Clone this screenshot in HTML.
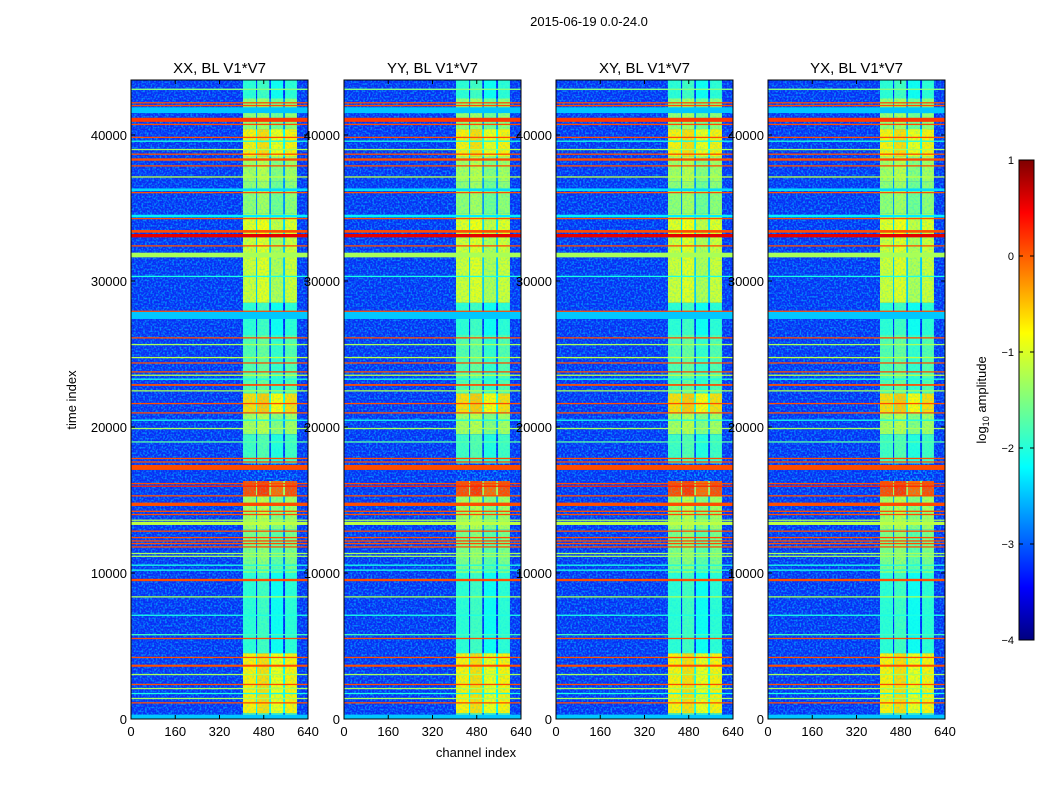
<!DOCTYPE html>
<html><head><meta charset="utf-8"><style>
body{margin:0;background:#fff;width:1050px;height:800px;overflow:hidden;font-family:"Liberation Sans",sans-serif}
</style></head><body>
<svg id="fig" width="1050" height="800" xmlns="http://www.w3.org/2000/svg" font-family="Liberation Sans, sans-serif">
<defs>
<filter id="noise" x="0" y="0" width="100%" height="100%">
<feTurbulence type="fractalNoise" baseFrequency="0.55" numOctaves="1" seed="3" result="t"/>
<feColorMatrix in="t" type="matrix" values="0 0 0 0 0  0 0 0 0 0.75  0 0 0 0 1  0 0 0 3.2 -1.35"/>
</filter>
<linearGradient id="jetg" x1="0" y1="1" x2="0" y2="0">
<stop offset="0" stop-color="#00007f"/><stop offset="0.11" stop-color="#0000ff"/><stop offset="0.36" stop-color="#00ffff"/><stop offset="0.5" stop-color="#7fff7f"/><stop offset="0.64" stop-color="#ffff00"/><stop offset="0.89" stop-color="#ff0000"/><stop offset="1" stop-color="#7f0000"/>
</linearGradient>
</defs>
<text x="589" y="26" font-size="13" text-anchor="middle">2015-06-19 0.0-24.0</text>
<text x="476" y="757" font-size="13" text-anchor="middle">channel index</text>
<text transform="translate(76,400) rotate(-90)" font-size="13" text-anchor="middle">time index</text>
<g id="panels"></g>
<g>
<rect x="1019" y="160" width="15" height="480" fill="url(#jetg)" stroke="#000" stroke-width="1"/>
<g id="cbticks"></g>
<text transform="translate(986,400) rotate(-90)" font-size="13" text-anchor="middle">log<tspan font-size="9" dy="3">10</tspan><tspan dy="-3"> amplitude</tspan></text>
</g>
</svg>
<script>
const titles=["XX, BL V1*V7","YY, BL V1*V7","XY, BL V1*V7","YX, BL V1*V7"];
const xTicks=[0,160,320,480,640];
const yTicks=[0,10000,20000,30000,40000];
const cbTicks=[1,0,-1,-2,-3,-4];
// horizontal RFI lines: [time start, time end, log10 amplitude]
const rfiLines=[[43080,43180,-1.5],[42170,42250,0],[42000,42060,0],[41500,41900,-2.4],[40900,41180,0.1],[40700,40770,0],[39800,39880,0],[39560,39620,-2],[38990,39050,-1.3],[38670,38730,0],[38240,38400,0],[37870,37930,0],[37110,37170,-1.2],[36160,36340,-2.3],[36040,36100,0],[34360,34540,-2.2],[34260,34320,0],[33310,33490,0],[32990,33220,0.5],[32390,32450,0],[31620,31940,-1.3],[30320,30360,-2],[27930,27970,0],[27400,27880,-2.4],[26090,26150,0],[25630,25690,-1.3],[24740,24800,-1.2],[24370,24430,0],[23760,23820,0],[23530,23590,-1.2],[23260,23320,-2],[22820,22940,0],[22460,22520,-1.3],[21590,21650,0],[20950,21010,0],[20450,20510,-2],[19880,19940,-1.3],[18960,19020,-1.7],[17830,17890,0],[17590,17650,0],[17060,17400,0],[16110,16170,0],[15930,15990,0.2],[15270,15330,0],[14590,14820,0],[14230,14270,0],[13990,14050,0],[13600,13660,-1.3],[13290,13510,-1.2],[12850,12910,0],[12410,12470,0],[12180,12240,0],[12000,12060,0],[11770,11830,0],[11320,11380,-1.3],[11130,11190,-1.3],[10520,10580,-2],[10180,10240,-2],[9440,9600,0],[8350,8410,-1.3],[7090,7150,-2],[5780,5820,-1.8],[5500,5560,0],[4200,4260,0],[3580,3720,0],[3030,3090,-1.3],[2350,2410,0],[2070,2130,-1.3],[1730,1790,-2],[1390,1450,-1.3],[1090,1150,0],[0,300,-2.4]];
// RFI band segments: [time start, time end, log10 amplitude]
const bandSegs=[[42500,43800,-1.9],[40400,42500,-1.4],[38500,40400,-0.8],[36800,38500,-1.3],[34600,36800,-1.4],[33000,34600,-1.0],[28500,33000,-1.1],[26300,28500,-1.9],[22300,26300,-1.7],[21000,22300,-0.7],[19500,21000,-1.3],[17500,19500,-1.8],[15300,16300,0.0],[13000,15300,-1.3],[10000,13000,-1.5],[4500,10000,-1.9],[400,4500,-0.8],[0,400,-1.6]];
// band strips in channel units
const stripCh=[[405,452],[456,500],[506,550],[557,600]];
const stripOffset=[0,0.1,-0.15,0];

function jet(v){let x=(v+4)/5;x=Math.max(0,Math.min(1,x));
 const r=Math.max(0,Math.min(1,1.5-Math.abs(4*x-3))),g=Math.max(0,Math.min(1,1.5-Math.abs(4*x-2))),b=Math.max(0,Math.min(1,1.5-Math.abs(4*x-1)));
 return `rgb(${Math.round(r*255)},${Math.round(g*255)},${Math.round(b*255)})`;}
const NS="http://www.w3.org/2000/svg";
function el(tag,attrs,parent){const e=document.createElementNS(NS,tag);for(const k in attrs)e.setAttribute(k,attrs[k]);parent.appendChild(e);return e;}
const lefts=[131,344,556,768],W=177,TOP=80,BOT=719;
const panels=document.getElementById('panels');
lefts.forEach((L,pi)=>{
 const xs=c=>L+c/640*W, ys=t=>BOT-t*0.0146;
 const g=el('g',{},panels);
 
 
 const cp=el('clipPath',{id:'cp'+pi},g);el('rect',{x:L,y:TOP,width:W,height:BOT-TOP},cp);
 const d=el('g',{'clip-path':`url(#cp${pi})`},g);
 el('rect',{x:L,y:TOP,width:W,height:BOT-TOP,fill:'#0a2cf5'},d);
 el('rect',{x:L,y:TOP,width:W,height:BOT-TOP,fill:'#fff',filter:'url(#noise)',opacity:0.55},d);
 bandSegs.forEach(s=>{
  el('rect',{x:xs(stripCh[0][0]),y:ys(s[1]),width:xs(stripCh[3][1])-xs(stripCh[0][0]),height:ys(s[0])-ys(s[1]),fill:jet(s[2]-1.3)},d);
  stripCh.forEach((c,k)=>{const r=el('rect',{x:xs(c[0]),y:ys(s[1]),width:xs(c[1])-xs(c[0]),height:ys(s[0])-ys(s[1]),fill:jet(s[2]+stripOffset[k])},d);
   
   });
 });
 el('rect',{x:xs(stripCh[0][0]),y:TOP,width:xs(stripCh[3][1])-xs(stripCh[0][0]),height:BOT-TOP,fill:'#fff',filter:'url(#noise)',opacity:0.3},d);
 rfiLines.forEach(s=>{const h=Math.max(1.3,ys(s[0])-ys(s[1]));
  const r=el('rect',{x:L,y:ys(s[1]),width:W,height:h,fill:jet(s[2])},d);
  
  });
 el('rect',{x:L,y:TOP,width:W,height:BOT-TOP,fill:'none',stroke:'#000','stroke-width':1},g);
 const t=el('text',{x:L+W/2,y:73,'font-size':15,'text-anchor':'middle'},g);t.textContent=titles[pi];
 
 
 xTicks.forEach(v=>{const x=xs(v);el('line',{x1:x,x2:x,y1:BOT,y2:BOT-4,stroke:'#000'},g);el('line',{x1:x,x2:x,y1:TOP,y2:TOP+4,stroke:'#000'},g);
  const tx=el('text',{x:x,y:736,'font-size':13,'text-anchor':'middle'},g);tx.textContent=v;
  
  });
 yTicks.forEach(v=>{const y=ys(v);el('line',{x1:L,x2:L+4,y1:y,y2:y,stroke:'#000'},g);el('line',{x1:L+W,x2:L+W-4,y1:y,y2:y,stroke:'#000'},g);
  const ty=el('text',{x:L-4,y:y+5,'font-size':13,'text-anchor':'end'},g);ty.textContent=v;
  
  });
});
const cbt=document.getElementById('cbticks');
cbTicks.forEach(v=>{const y=640-(v+4)/5*480;
 el('line',{x1:1019,x2:1023,y1:y,y2:y,stroke:'#000'},cbt);el('line',{x1:1034,x2:1030,y1:y,y2:y,stroke:'#000'},cbt);
 const t=el('text',{x:1014,y:y+4,'font-size':11,'text-anchor':'end'},cbt);t.textContent=v<0?'\u2212'+(-v):v;
 
 });
</script>
</body></html>
